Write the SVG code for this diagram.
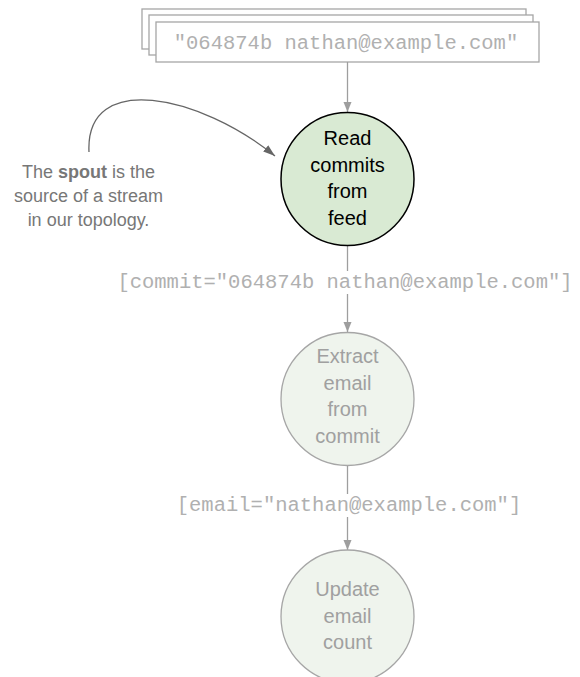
<svg xmlns="http://www.w3.org/2000/svg" width="580" height="677" viewBox="0 0 580 677">
<style>
.box{fill:#fff;stroke:#a6a6a6;stroke-width:1.3}
.mono{font-family:"Liberation Mono","Courier New",monospace;font-size:20.5px;fill:#b0b0b0;text-anchor:middle}
.conn{stroke:#9e9e9e;stroke-width:1.3;fill:none}
.lbl{font-family:"Liberation Sans",Arial,sans-serif;font-size:20px;text-anchor:middle}
.note{font-family:"Liberation Sans",Arial,sans-serif;font-size:18px;fill:#777;text-anchor:middle}
</style>
<defs>
<marker id="ah" markerWidth="10" markerHeight="10" viewBox="0 0 10 10" refX="10" refY="5" orient="auto" markerUnits="userSpaceOnUse">
<path d="M0,1 L10,5 L0,9 Z" fill="#9e9e9e"/>
</marker>
<marker id="ahd" markerWidth="12" markerHeight="10" viewBox="0 0 12 10" refX="12" refY="5" orient="auto" markerUnits="userSpaceOnUse">
<path d="M0,1 L12,5 L0,9 Z" fill="#666"/>
</marker>
</defs>
<g id="feed">
<rect class="box" x="142" y="9" width="384" height="40"/>
<rect class="box" x="149" y="15" width="384" height="40"/>
<rect class="box" x="156" y="22" width="383" height="40"/>
<text class="mono" x="346" y="49">"064874b nathan@example.com"</text>
</g>
<g id="connectors">
<line class="conn" x1="347.5" y1="62" x2="347.5" y2="112" marker-end="url(#ah)"/>
<line class="conn" x1="347.5" y1="246" x2="347.5" y2="271"/>
<line class="conn" x1="347.5" y1="294" x2="347.5" y2="332" marker-end="url(#ah)"/>
<line class="conn" x1="347.5" y1="466" x2="347.5" y2="494"/>
<line class="conn" x1="347.5" y1="517" x2="347.5" y2="550" marker-end="url(#ah)"/>
<path d="M89,152 C85,70 200,95 275,156" fill="none" stroke="#666" stroke-width="1.3" marker-end="url(#ahd)"/>
</g>
<g id="spout">
<circle cx="347.5" cy="179" r="66.5" fill="#d9ead3" stroke="#000" stroke-width="1.5"/>
<text class="lbl" fill="#000"><tspan x="347.5" y="145">Read</tspan><tspan x="347.5" y="171.5">commits</tspan><tspan x="347.5" y="198">from</tspan><tspan x="347.5" y="224.5">feed</tspan></text>
</g>
<g id="commit-label">
<text class="mono" x="345" y="288">[commit="064874b nathan@example.com"]</text>
</g>
<g id="extract">
<circle cx="347.5" cy="399" r="66.5" fill="#eff4ed" stroke="#a6a6a6" stroke-width="1.3"/>
<text class="lbl" fill="#a0a0a0"><tspan x="347.5" y="363">Extract</tspan><tspan x="347.5" y="389.5">email</tspan><tspan x="347.5" y="416">from</tspan><tspan x="347.5" y="442.5">commit</tspan></text>
</g>
<g id="email-label">
<text class="mono" x="349" y="511">[email="nathan@example.com"]</text>
</g>
<g id="update">
<circle cx="347.5" cy="616.5" r="66.5" fill="#eff4ed" stroke="#a6a6a6" stroke-width="1.3"/>
<text class="lbl" fill="#a0a0a0"><tspan x="347.5" y="596">Update</tspan><tspan x="347.5" y="622.5">email</tspan><tspan x="347.5" y="649">count</tspan></text>
</g>
<g id="note">
<text class="note"><tspan x="88.5" y="178">The <tspan font-weight="bold">spout</tspan> is the</tspan><tspan x="88.5" y="202">source of a stream</tspan><tspan x="88.5" y="226">in our topology.</tspan></text>
</g>
</svg>
